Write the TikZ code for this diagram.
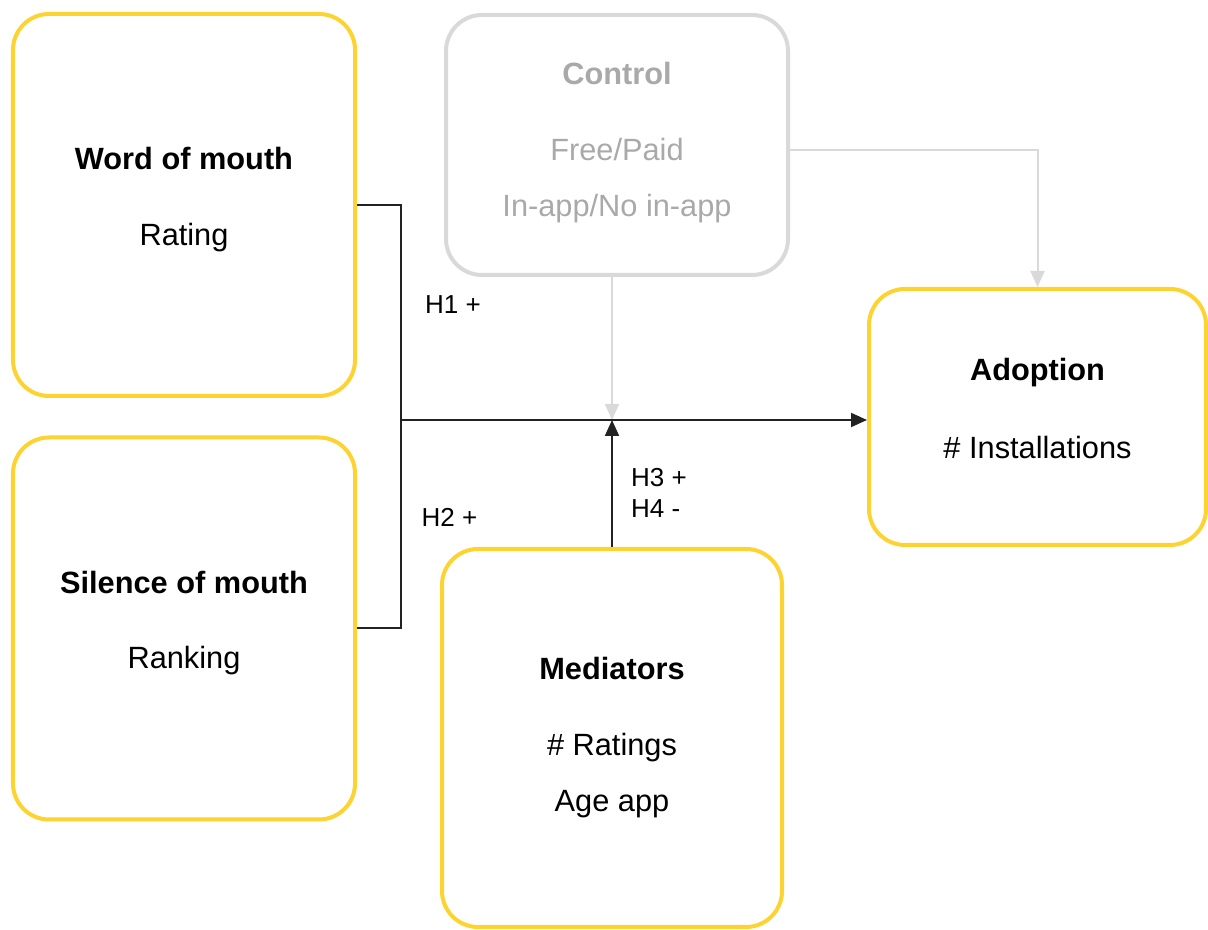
\documentclass[tikz,border=0pt]{standalone}
\usepackage{fontspec}
\setmainfont{Liberation Sans}
\usetikzlibrary{arrows.meta}
\definecolor{boxyellow}{HTML}{FDD331}
\definecolor{ctrlgrey}{HTML}{D9D9D9}
\definecolor{ctrltext}{HTML}{A9A9A9}
\definecolor{linedark}{HTML}{222222}

\begin{document}
\begin{tikzpicture}[
        block/.style={
        rectangle, rounded corners=0.72cm, draw=boxyellow,
        line width=0.08cm, align=center, text depth=10pt,
        minimum width=6.84cm, minimum height=7.64cm,
        font=\fontsize{17.5}{21}\selectfont},
        ctrlblock/.style={block, draw=ctrlgrey, text=ctrltext},
        link/.style={draw=linedark, line width=0.04cm},
        ctrllink/.style={draw=ctrlgrey, line width=0.04cm},
        tip/.style={-{Triangle[length=0.32cm, width=0.28cm]}},
        hyp/.style={anchor=west, align=left,
        font=\fontsize{14.8}{17.6}\selectfont},
        ]

        \useasboundingbox (0,0) rectangle (24.16,18.6);

        \node (wom) [block] at (3.68,14.5){\textbf{Word of mouth}\\[22pt]Rating};
        \node (som) [block] at (3.68,6.03){\textbf{Silence of mouth}\\[22pt]Ranking};
        \node (ctrl) [ctrlblock, text depth=6.5pt, minimum height=5.2cm] at (12.34,15.7)
            {\textbf{Control}\\[22pt]Free/Paid\\[11pt]In-app/No in-app};
        \node (adopt) [block, minimum width=6.74cm, minimum height=5.12cm] at (20.75,10.26)
            {\textbf{Adoption}\\[23pt]\# Installations};
        \node (med) [block, text depth=3.7pt, minimum width=6.8cm, minimum height=7.56cm]
            at (12.24,3.84) {\textbf{Mediators}\\[22pt]\# Ratings\\[11pt]Age app};

        \coordinate (join) at (8.02,10.2);

        \node (h1) [hyp] at (8.38,12.5){H1 +};
        \node (h2) [hyp] at (8.31,8.26){H2 +};
        \node (h34) [hyp] at (12.5,8.75){H3 +\\H4 -};

        \draw [ctrllink, tip] (ctrl.south -| med.north) -- (join -| med.north);
        \draw [ctrllink, tip] (ctrl.east |- 0,15.6) -| (adopt.north);
        \draw [link] (wom.east) -- (wom.east -| join) -- (som.east -| join) -- (som.east);
        \draw [link, tip] (join) -- (adopt.west |- join);
        \draw [link, tip] (med.north) -- (join -| med.north);
    \end{tikzpicture}
\end{document}
